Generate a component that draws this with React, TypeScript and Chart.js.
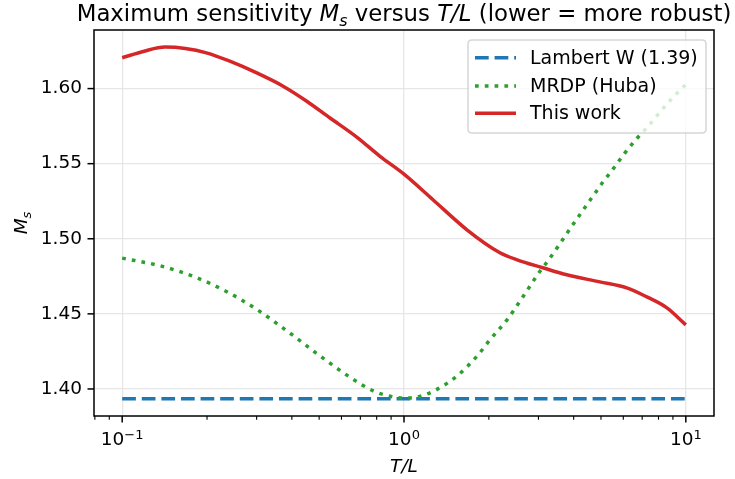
import React, { useEffect, useRef } from "react";
import { Chart, registerables } from "chart.js";
Chart.register(...registerables);

const FONT = '"DejaVu Sans", sans-serif';

// ---- data ----
const lambertX = [0.1, 10];
const lambertY = [1.3935, 1.3935];

const mrdpX = [0.1, 0.1364, 0.1815, 0.2382, 0.3086, 0.3941, 0.5036, 0.6435, 0.7783, 0.9046, 1.008, 1.124, 1.288, 1.557, 1.833, 2.018, 2.32, 2.64, 2.995, 3.276, 3.574, 3.879, 4.233, 4.63, 5.05, 5.523, 6.043, 6.647, 7.349, 8.087, 8.898, 10];
const mrdpY = [1.4871, 1.482, 1.4745, 1.4642, 1.4515, 1.4371, 1.422, 1.4078, 1.3987, 1.3949, 1.394, 1.3949, 1.399, 1.4093, 1.4227, 1.4327, 1.446, 1.4613, 1.4767, 1.4865, 1.4967, 1.5065, 1.5167, 1.5271, 1.5371, 1.5465, 1.5565, 1.566, 1.5749, 1.5842, 1.5931, 1.6027];

const workX = [0.1, 0.1197, 0.142, 0.1675, 0.199, 0.241, 0.3003, 0.3724, 0.4518, 0.5465, 0.6796, 0.822, 1.0, 1.267, 1.672, 2.19, 2.52, 3.11, 3.78, 4.95, 6.17, 7.27, 8.57, 10];
const workY = [1.6205, 1.6249, 1.6276, 1.6267, 1.6238, 1.6182, 1.6104, 1.6016, 1.5916, 1.5804, 1.5677, 1.5549, 1.543, 1.526, 1.506, 1.4907, 1.486, 1.4807, 1.476, 1.4713, 1.4673, 1.4613, 1.454, 1.4427];

const yTicks = [1.4, 1.45, 1.5, 1.55, 1.6];
const xMajor = [0.1, 1, 10];
const xMajorExp = ["\u22121", "0", "1"];
const xMinor = [0.08, 0.09, 0.2, 0.3, 0.4, 0.5, 0.6, 0.7, 0.8, 0.9, 2, 3, 4, 5, 6, 7, 8, 9];

const seriesLabels = ["Lambert W (1.39)", "MRDP (Huba)", "This work"];
const seriesColors = ["#1f77b4", "#2ca02c", "#d62728"];

const toPts = (xs: number[], ys: number[]) => xs.map((x, i) => ({ x, y: ys[i] }));

type Piece = { t: string; it?: boolean; sub?: boolean };

function measureRich(ctx: CanvasRenderingContext2D, pieces: Piece[], size: number) {
  let w = 0;
  for (const p of pieces) {
    const s = p.sub ? size * 0.7 : size;
    ctx.font = `${p.it ? "italic " : ""}${s}px ${FONT}`;
    w += ctx.measureText(p.t).width;
  }
  return w;
}

function drawRich(ctx: CanvasRenderingContext2D, pieces: Piece[], cx: number, baseY: number, size: number) {
  const w = measureRich(ctx, pieces, size);
  let x = cx - w / 2;
  ctx.textAlign = "left";
  ctx.textBaseline = "alphabetic";
  for (const p of pieces) {
    const s = p.sub ? size * 0.7 : size;
    ctx.font = `${p.it ? "italic " : ""}${s}px ${FONT}`;
    ctx.fillText(p.t, x, baseY + (p.sub ? size * 0.22 : 0));
    x += ctx.measureText(p.t).width;
  }
}

const overlay = {
  id: "overlay",
  afterDatasetsDraw(chart: any) {
    const ctx: CanvasRenderingContext2D = chart.ctx;
    // legend
    ctx.save();
    const bx = 468, by = 40, bw = 238, bh = 93, r = 4;
    ctx.beginPath();
    ctx.moveTo(bx + r, by);
    ctx.lineTo(bx + bw - r, by);
    ctx.quadraticCurveTo(bx + bw, by, bx + bw, by + r);
    ctx.lineTo(bx + bw, by + bh - r);
    ctx.quadraticCurveTo(bx + bw, by + bh, bx + bw - r, by + bh);
    ctx.lineTo(bx + r, by + bh);
    ctx.quadraticCurveTo(bx, by + bh, bx, by + bh - r);
    ctx.lineTo(bx, by + r);
    ctx.quadraticCurveTo(bx, by, bx + r, by);
    ctx.closePath();
    ctx.fillStyle = "rgba(255,255,255,0.8)";
    ctx.fill();
    ctx.strokeStyle = "rgba(204,204,204,0.8)";
    ctx.lineWidth = 1.5;
    ctx.stroke();
    const rows = [57.7, 86, 113.3];
    const dashes = [[13.7, 5.9], [3.7, 6.1], []];
    for (let i = 0; i < 3; i++) {
      ctx.beginPath();
      ctx.setLineDash(dashes[i]);
      ctx.lineCap = "butt";
      ctx.strokeStyle = seriesColors[i];
      ctx.lineWidth = 3.5;
      ctx.moveTo(475, rows[i]);
      ctx.lineTo(516, rows[i]);
      ctx.stroke();
      ctx.setLineDash([]);
      ctx.fillStyle = "#000";
      ctx.font = `19px ${FONT}`;
      ctx.textAlign = "left";
      ctx.textBaseline = "middle";
      ctx.fillText(seriesLabels[i], 530, rows[i] + 1);
    }
    ctx.restore();
  },
  afterDraw(chart: any) {
    const ctx: CanvasRenderingContext2D = chart.ctx;
    const a = chart.chartArea;
    const xs = chart.scales.x;
    const ys = chart.scales.y;
    ctx.save();
    ctx.strokeStyle = "#000";
    ctx.fillStyle = "#000";
    // spines
    ctx.lineWidth = 1.5;
    ctx.strokeRect(a.left, a.top, a.right - a.left, a.bottom - a.top);
    // y ticks
    for (const v of yTicks) {
      const y = ys.getPixelForValue(v);
      ctx.beginPath();
      ctx.moveTo(a.left - 6.5, y);
      ctx.lineTo(a.left, y);
      ctx.stroke();
    }
    // x major ticks + labels
    xMajor.forEach((v, i) => {
      const x = xs.getPixelForValue(v);
      ctx.lineWidth = 1.5;
      ctx.beginPath();
      ctx.moveTo(x, a.bottom);
      ctx.lineTo(x, a.bottom + 6.5);
      ctx.stroke();
      ctx.font = `18.5px ${FONT}`;
      const w1 = ctx.measureText("10").width;
      ctx.font = `13px ${FONT}`;
      const w2 = ctx.measureText(xMajorExp[i]).width;
      const x0 = x - (w1 + w2) / 2;
      ctx.textAlign = "left";
      ctx.textBaseline = "alphabetic";
      ctx.font = `18.5px ${FONT}`;
      ctx.fillText("10", x0, 445);
      ctx.font = `13px ${FONT}`;
      ctx.fillText(xMajorExp[i], x0 + w1, 439);
    });
    // x minor ticks
    ctx.lineWidth = 1.1;
    for (const v of xMinor) {
      const x = xs.getPixelForValue(v);
      ctx.beginPath();
      ctx.moveTo(x, a.bottom);
      ctx.lineTo(x, a.bottom + 3.7);
      ctx.stroke();
    }
    // title
    drawRich(ctx, [
      { t: "Maximum sensitivity " },
      { t: "M", it: true },
      { t: "s", it: true, sub: true },
      { t: " versus " },
      { t: "T/L", it: true },
      { t: " (lower = more robust)" },
    ], (a.left + a.right) / 2, 21, 22.8);
    // x label
    drawRich(ctx, [{ t: "T/L", it: true }], (a.left + a.right) / 2, 472, 18.5);
    // y label
    ctx.translate(27, (a.top + a.bottom) / 2);
    ctx.rotate(-Math.PI / 2);
    drawRich(ctx, [{ t: "M", it: true }, { t: "s", it: true, sub: true }], 0, 0, 18.5);
    ctx.restore();
  },
};

export default function App() {
  const ref = useRef<HTMLCanvasElement>(null);
  useEffect(() => {
    if (!ref.current) return;
    const chart = new Chart(ref.current, {
      type: "line",
      data: {
        datasets: [
          {
            label: seriesLabels[0],
            data: toPts(lambertX, lambertY),
            borderColor: seriesColors[0],
            borderWidth: 3.5,
            borderDash: [13.7, 5.9],
            borderCapStyle: "butt",
            pointRadius: 0,
            order: 3,
          },
          {
            label: seriesLabels[1],
            data: toPts(mrdpX, mrdpY),
            borderColor: seriesColors[1],
            borderWidth: 3.5,
            borderDash: [3.7, 6.1],
            borderCapStyle: "butt",
            pointRadius: 0,
            cubicInterpolationMode: "monotone",
            order: 2,
          },
          {
            label: seriesLabels[2],
            data: toPts(workX, workY),
            borderColor: seriesColors[2],
            borderWidth: 3.5,
            pointRadius: 0,
            cubicInterpolationMode: "monotone",
            order: 1,
          },
        ],
      },
      options: {
        animation: false,
        responsive: false,
        devicePixelRatio: 1,
        layout: { padding: { top: 30, right: 21, bottom: 0, left: 0 } },
        plugins: { legend: { display: false }, title: { display: false }, tooltip: { enabled: false } },
        events: [],
        scales: {
          x: {
            type: "logarithmic",
            min: Math.pow(10, -1.1),
            max: Math.pow(10, 1.1),
            afterBuildTicks: (s: any) => {
              s.ticks = xMajor.map((v) => ({ value: v }));
            },
            afterFit: (s: any) => {
              s.height = 63;
            },
            ticks: { display: false },
            grid: { color: "#e6e6e6", lineWidth: 1.3, drawTicks: false },
            border: { display: false },
          },
          y: {
            type: "linear",
            min: 1.382,
            max: 1.639,
            afterBuildTicks: (s: any) => {
              s.ticks = yTicks.map((v) => ({ value: v }));
            },
            afterFit: (s: any) => {
              s.width = 94;
            },
            ticks: {
              color: "#000",
              font: { family: "DejaVu Sans", size: 18.5 },
              padding: 12,
              callback: (v: any) => Number(v).toFixed(2),
            },
            grid: { color: "#e6e6e6", lineWidth: 1.3, drawTicks: false },
            border: { display: false },
          },
        },
      },
      plugins: [overlay],
    } as any);
    return () => chart.destroy();
  }, []);
  return (
    <div style={{ position: "absolute", left: 0, top: 0, width: 735, height: 479, background: "#fff" }}>
      <canvas ref={ref} width={735} height={479} style={{ width: 735, height: 479, display: "block" }} />
    </div>
  );
}
